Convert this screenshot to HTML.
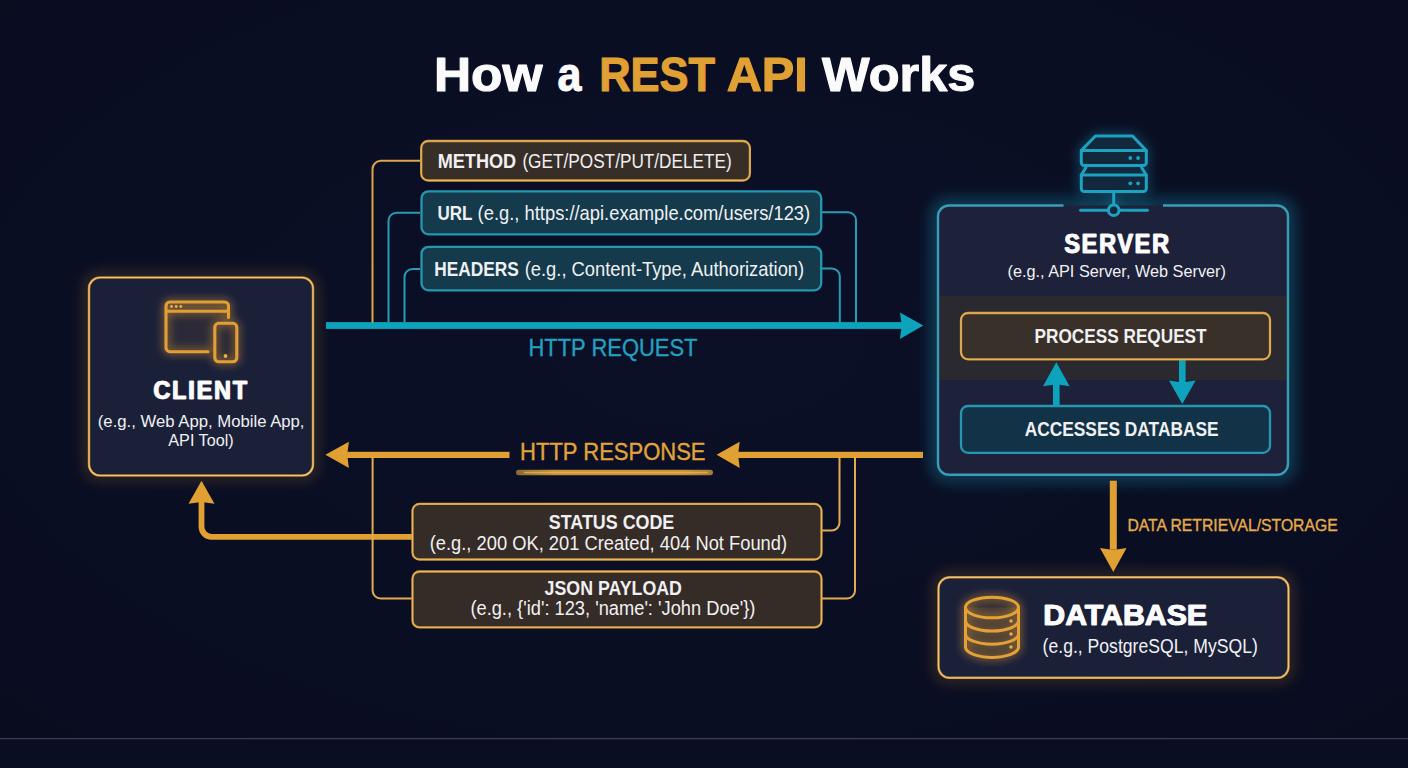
<!DOCTYPE html>
<html><head><meta charset="utf-8"><title>How a REST API Works</title>
<style>
html,body{margin:0;padding:0;background:#0a0e23;}
body{width:1408px;height:768px;overflow:hidden;font-family:"Liberation Sans",sans-serif;}
svg{display:block;}
text{font-family:"Liberation Sans",sans-serif;}
.b{font-weight:bold;}
.w{fill:#f0f0f2;}
.hw{fill:#fbfbfc;stroke:#fbfbfc;stroke-linejoin:round;}
</style></head><body>
<svg width="1408" height="768" viewBox="0 0 1408 768">
<defs>
<radialGradient id="bg" cx="50%" cy="45%" r="75%">
<stop offset="0" stop-color="#0b1027"/><stop offset="0.6" stop-color="#0a0e23"/><stop offset="1" stop-color="#090c1f"/>
</radialGradient>
<filter id="glowO" x="-20%" y="-20%" width="140%" height="140%"><feGaussianBlur stdDeviation="5.5"/></filter>
<filter id="glowI" x="-40%" y="-40%" width="180%" height="180%"><feGaussianBlur stdDeviation="4"/></filter>
<filter id="glowSv" x="-20%" y="-20%" width="140%" height="140%"><feGaussianBlur stdDeviation="6.5"/></filter>
<filter id="glowB" x="-10%" y="-40%" width="120%" height="180%"><feGaussianBlur stdDeviation="2.5"/></filter>
<linearGradient id="ul" x1="0" x2="1"><stop offset="0" stop-color="#8a6a30"/><stop offset="0.2" stop-color="#c99236"/><stop offset="0.85" stop-color="#c99236"/><stop offset="1" stop-color="#a57b34"/></linearGradient>

<!-- client icon -->
<g id="icClient" fill="none" stroke-linecap="round" stroke-linejoin="round">
<path d="M208 351.700 H170 a4 4 0 0 1 -4 -4 V306 a4 4 0 0 1 4 -4 H224.500 a4 4 0 0 1 4 4 V317.500"/>
<path d="M167 311.300 H227.500"/>
<rect x="214.800" y="323.300" width="22" height="38.500" rx="4"/>
</g>
<!-- server icon -->
<g id="icServer" stroke-linejoin="round" stroke-linecap="round">
<path d="M1081.300 150.500 L1095.500 136 H1132.500 L1146.300 150.500 V162.500 a3 3 0 0 1 -3 3 H1084.300 a3 3 0 0 1 -3 -3 Z"/>
<path d="M1081.300 150.500 H1146.300" fill="none"/>
<path d="M1086 167.500 L1081.300 175 V188.500 a3 3 0 0 0 3 3 H1143.300 a3 3 0 0 0 3 -3 V175 L1141.500 167.500"/>
<path d="M1081.300 175 H1146.300" fill="none"/>
<path d="M1113.700 192 V204.500 M1080.500 210.300 H1108 M1119.500 210.300 H1147.500" fill="none"/>
<circle cx="1113.700" cy="210.300" r="5.300"/>
</g>
<!-- db icon -->
<g id="icDb" stroke-linecap="round">
<path d="M965.500 607.500 V647.100 a26.500 10.300 0 0 0 53 0 V607.500 Z" stroke="none"/>
<ellipse cx="992" cy="607.500" rx="26.500" ry="10.300"/>
<path d="M965.500 607.500 V647.100 M1018.500 607.500 V647.100" fill="none"/>
<path d="M965.500 620.700 a26.500 10.300 0 0 0 53 0" fill="none"/>
<path d="M965.500 633.900 a26.500 10.300 0 0 0 53 0" fill="none"/>
<path d="M965.500 647.100 a26.500 10.300 0 0 0 53 0" fill="none"/>
</g>
</defs>
<rect width="1408" height="768" fill="url(#bg)"/>
<!-- footer -->
<rect x="0" y="739" width="1408" height="29" fill="#0a0e23"/>
<rect x="0" y="738.200" width="1408" height="1" fill="#4a4e5a"/>

<!-- TITLE -->
<g id="title" class="b" font-size="48.600" stroke-width="1.100" stroke-linejoin="round">
<text x="433.900" y="90.800" class="hw" textLength="108.600" lengthAdjust="spacingAndGlyphs">How</text>
<text x="557.400" y="90.800" class="hw" textLength="23.900" lengthAdjust="spacingAndGlyphs">a</text>
<text x="599.200" y="90.800" fill="#e1a033" stroke="#e1a033" textLength="115.900" lengthAdjust="spacingAndGlyphs">REST</text>
<text x="726.700" y="90.800" fill="#e1a033" stroke="#e1a033" textLength="81.100" lengthAdjust="spacingAndGlyphs">API</text>
<text x="822.100" y="90.800" class="hw" textLength="153.200" lengthAdjust="spacingAndGlyphs">Works</text>
</g>

<!-- CLIENT -->
<g id="client">
<rect x="89" y="277.500" width="224" height="198" rx="11" fill="none" stroke="#c98a30" stroke-width="16" opacity="0.15" filter="url(#glowO)"/>
<rect x="89" y="277.500" width="224" height="198" rx="11" fill="#1b2039" stroke="#b9842f" stroke-width="2.500"/>
<rect x="89" y="277.500" width="224" height="198" rx="11" fill="none" stroke="#efc57c" stroke-width="1.200"/>
<rect x="166" y="302" width="62.500" height="49.700" rx="4" fill="#c98a30" opacity="0.10"/>
<rect x="214.800" y="323.300" width="22" height="38.500" rx="4" fill="#2b2836"/>
<use href="#icClient" stroke="#e8a232" stroke-width="6" opacity="0.5" filter="url(#glowI)"/>
<use href="#icClient" stroke="#e29f35" stroke-width="3.100"/>
<g fill="#ecae48"><circle cx="171.500" cy="306.500" r="1.400"/><circle cx="176.200" cy="306.500" r="1.400"/><circle cx="180.800" cy="306.500" r="1.400"/><circle cx="225.500" cy="356" r="1.900"/></g>
<text transform="translate(153,399.400) scale(0.9,1)" class="b hw" stroke-width="0.500" font-size="25.800" letter-spacing="2.180">CLIENT</text>
<text transform="translate(153.900,399.400) scale(0.9,1)" class="b hw" stroke-width="0.500" font-size="25.800" letter-spacing="2.180">CLIENT</text>
<text x="97.800" y="426.700" class="w" font-size="17" textLength="206.700" lengthAdjust="spacingAndGlyphs">(e.g., Web App, Mobile App,</text>
<text x="168.300" y="445.500" class="w" font-size="17" textLength="65.400" lengthAdjust="spacingAndGlyphs">API Tool)</text>
</g>

<!-- REQUEST arrow -->
<g fill="#0da3bd">
<rect x="326" y="322.100" width="577" height="6.800"/>
<path d="M923.300 325.400 L899.900 312.400 L901.800 325.400 L899.900 338.900 Z"/>
</g>
<!-- REQUEST connectors -->
<g fill="none" stroke-width="2">
<path d="M420 160.700 H381 a8.500 8.500 0 0 0 -8.500 8.500 V322.500" stroke="#dea448"/>
<path d="M420 212.800 H396.500 a8 8 0 0 0 -8 8 V322.500" stroke="#2a9bb4"/>
<path d="M420 269 H412.500 a8 8 0 0 0 -8 8 V322.500" stroke="#2a9bb4"/>
<path d="M821 212.300 H848 a8 8 0 0 1 8 8 V322.500" stroke="#2a9bb4"/>
<path d="M821 268.400 H831.800 a8 8 0 0 1 8 8 V322.500" stroke="#2a9bb4"/>
</g>
<text x="528.400" y="355.800" fill="#22a2c0" stroke="#22a2c0" stroke-width="0.300" font-size="23.400" textLength="169.100" lengthAdjust="spacingAndGlyphs">HTTP REQUEST</text>

<!-- REQUEST boxes -->
<g stroke-width="2.300">
<rect x="421.200" y="141" width="328.700" height="39.500" rx="7" fill="#382e28" stroke="#cf9638"/>
<rect x="421.500" y="191.300" width="399.700" height="43" rx="7" fill="#143a4c" stroke="#2597b0"/>
<rect x="421.500" y="246.800" width="399.700" height="43.500" rx="7" fill="#143a4c" stroke="#2597b0"/>
</g>
<rect x="421.200" y="141" width="328.700" height="39.500" rx="7" fill="none" stroke="#eec074" stroke-width="0.800"/>
<g class="w" font-size="20.200">
<text x="437.700" y="168.200" class="b" textLength="78.500" lengthAdjust="spacingAndGlyphs">METHOD</text>
<text x="522.400" y="168.200" textLength="209.400" lengthAdjust="spacingAndGlyphs">(GET/POST/PUT/DELETE)</text>
<text x="437.400" y="219.900" class="b" textLength="35" lengthAdjust="spacingAndGlyphs">URL</text>
<text x="477.600" y="219.900" textLength="332.600" lengthAdjust="spacingAndGlyphs">(e.g., https://api.example.com/users/123)</text>
<text x="434.300" y="275.800" class="b" textLength="84.500" lengthAdjust="spacingAndGlyphs">HEADERS</text>
<text x="524.700" y="275.800" textLength="279.500" lengthAdjust="spacingAndGlyphs">(e.g., Content-Type, Authorization)</text>
</g>

<!-- RESPONSE thick arrows -->
<g fill="#e0a032">
<rect x="737" y="451.800" width="186" height="6.200"/>
<path d="M716.600 454.700 L739.700 441.700 L738.100 454.700 L739.700 468.100 Z"/>
<rect x="346" y="451.800" width="163.500" height="6.200"/>
<path d="M325.400 454.700 L348.900 441.700 L347.200 454.700 L348.900 468.100 Z"/>
<path d="M201.500 480.700 L214.500 503.800 L201.500 502 L188.500 503.800 Z"/>
</g>
<path d="M412 536.800 H211.500 a10 10 0 0 1 -10 -10 V501" fill="none" stroke="#e0a032" stroke-width="5.800"/>
<!-- RESPONSE connectors (thin) -->
<g fill="none" stroke="#e2aa52" stroke-width="2">
<path d="M372.600 457 V590.500 a8 8 0 0 0 8 8 H412"/>
<path d="M822 530.600 H831.500 a8 8 0 0 0 8 -8 V457"/>
<path d="M822 598.500 H847 a8 8 0 0 0 8 -8 V457"/>
</g>
<text x="520.100" y="460" fill="#e2a43a" stroke="#e2a43a" stroke-width="0.350" font-size="23.400" textLength="185.400" lengthAdjust="spacingAndGlyphs">HTTP RESPONSE</text>
<rect x="516" y="469.700" width="197" height="5.600" rx="2.800" fill="url(#ul)"/>
<rect x="524" y="471.700" width="184" height="1.600" rx="0.800" fill="#ecbb66" opacity="0.7"/>

<!-- RESPONSE boxes -->
<g stroke-width="2.300" fill="#362c27" stroke="#cf9638">
<rect x="412.500" y="503.900" width="409" height="55.600" rx="7"/>
<rect x="412.500" y="571.500" width="409" height="55.900" rx="7"/>
</g>
<g stroke-width="0.800" fill="none" stroke="#eec074">
<rect x="412.500" y="503.900" width="409" height="55.600" rx="7"/>
<rect x="412.500" y="571.500" width="409" height="55.900" rx="7"/>
</g>
<g class="w">
<text x="548.800" y="528.700" class="b" font-size="19.800" textLength="125.500" lengthAdjust="spacingAndGlyphs">STATUS CODE</text>
<text x="429.700" y="549.500" font-size="19.900" textLength="357.400" lengthAdjust="spacingAndGlyphs">(e.g., 200 OK, 201 Created, 404 Not Found)</text>
<text x="544.600" y="595.100" class="b" font-size="19.800" textLength="137.300" lengthAdjust="spacingAndGlyphs">JSON PAYLOAD</text>
<text x="470.400" y="615.300" font-size="19.900" textLength="285" lengthAdjust="spacingAndGlyphs">(e.g., {'id': 123, 'name': 'John Doe'})</text>
</g>

<!-- SERVER -->
<g id="server">
<rect x="938" y="205.500" width="350" height="269.300" rx="11" fill="none" stroke="#16a4c4" stroke-width="18" opacity="0.27" filter="url(#glowSv)"/>
<use href="#icServer" fill="#1aa3c2" stroke="#1aa3c2" stroke-width="8" opacity="0.3" filter="url(#glowO)"/>
<rect x="938" y="205.500" width="350" height="269.300" rx="11" fill="#1d2139"/>
<rect x="939.200" y="296" width="347.600" height="84" fill="#2b2930"/>
<path d="M1063.500 205.500 H949 a11 11 0 0 0 -11 11 V463.800 a11 11 0 0 0 11 11 H1277 a11 11 0 0 0 11 -11 V216.500 a11 11 0 0 0 -11 -11 H1163" fill="none" stroke="#3a9db6" stroke-width="2.400"/>
<use href="#icServer" fill="#11283d" stroke="#1da2c0" stroke-width="3"/>
<g fill="#1da2c0"><circle cx="1130.300" cy="158" r="1.900"/><circle cx="1138.100" cy="158" r="1.900"/><circle cx="1130.300" cy="183.300" r="1.900"/><circle cx="1138.100" cy="183.300" r="1.900"/></g>
<text transform="translate(1063.900,252.900) scale(0.87,1)" class="b hw" stroke-width="0.500" font-size="27" letter-spacing="1.980">SERVER</text>
<text transform="translate(1064.700,252.900) scale(0.87,1)" class="b hw" stroke-width="0.500" font-size="27" letter-spacing="1.980">SERVER</text>
<text x="1007.500" y="277.400" class="w" font-size="17" textLength="218.400" lengthAdjust="spacingAndGlyphs">(e.g., API Server, Web Server)</text>
<!-- inner arrows -->
<g fill="#0da3bd">
<rect x="1053" y="384" width="6.600" height="22"/>
<path d="M1056.300 362.300 L1069.600 386.300 L1056.300 384.300 L1043 386.300 Z"/>
<rect x="1179" y="359" width="6.600" height="24.500"/>
<path d="M1182.300 404 L1169 380.400 L1182.300 382.400 L1195.600 380.400 Z"/>
</g>
<rect x="961" y="313" width="309" height="46.300" rx="7" fill="#3a302a" stroke="#cf9638" stroke-width="2.300"/>
<rect x="961" y="313" width="309" height="46.300" rx="7" fill="none" stroke="#eec074" stroke-width="0.800"/>
<rect x="961" y="406" width="309" height="46.800" rx="7" fill="#123347" stroke="#2597b0" stroke-width="2.300"/>
<text x="1034.600" y="343.400" class="b w" font-size="19.800" textLength="172" lengthAdjust="spacingAndGlyphs">PROCESS REQUEST</text>
<text x="1024.700" y="436.400" class="b w" font-size="19.800" textLength="193.900" lengthAdjust="spacingAndGlyphs">ACCESSES DATABASE</text>
</g>

<!-- DATA arrow -->
<g fill="#e0a032">
<rect x="1109.800" y="480.700" width="7" height="69"/>
<path d="M1113.300 572 L1100 548 L1113.300 550 L1126.600 548 Z"/>
</g>
<text x="1127.400" y="531.400" fill="#e6ac4c" font-size="17" textLength="210.300" lengthAdjust="spacingAndGlyphs" stroke="#e6ac4c" stroke-width="0.350">DATA RETRIEVAL/STORAGE</text>

<!-- DATABASE -->
<g id="db">
<rect x="938.500" y="577.300" width="350" height="100.500" rx="11" fill="none" stroke="#c98a30" stroke-width="16" opacity="0.15" filter="url(#glowO)"/>
<rect x="938.500" y="577.300" width="350" height="100.500" rx="11" fill="#1b2039" stroke="#b9842f" stroke-width="2.500"/>
<rect x="938.500" y="577.300" width="350" height="100.500" rx="11" fill="none" stroke="#efc57c" stroke-width="1.200"/>
<use href="#icDb" fill="none" stroke="#e8a232" stroke-width="6" opacity="0.5" filter="url(#glowI)"/>
<use href="#icDb" fill="rgba(232,162,50,0.10)" stroke="#e5a136" stroke-width="3"/>
<g fill="#ecae48"><circle cx="1011" cy="621" r="1.700"/><circle cx="1011" cy="634" r="1.700"/><circle cx="1011" cy="647" r="1.700"/></g>
<text x="1043" y="625" class="b hw" stroke-width="0.600" font-size="30.300">DATABASE</text>
<text x="1043.600" y="625" class="b hw" stroke-width="0.600" font-size="30.300">DATABASE</text>
<text x="1042.600" y="652.700" class="w" font-size="19.500" textLength="215.200" lengthAdjust="spacingAndGlyphs">(e.g., PostgreSQL, MySQL)</text>
</g>
</svg>
</body></html>
